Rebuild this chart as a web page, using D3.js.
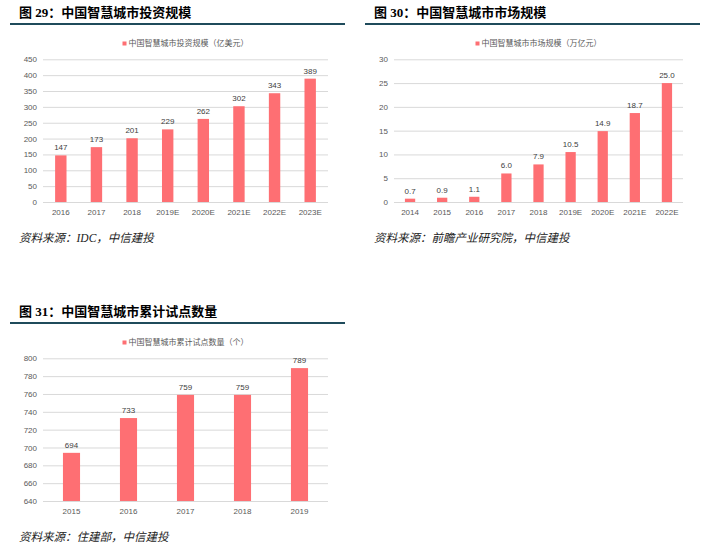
<!DOCTYPE html>
<html>
<head>
<meta charset="utf-8">
<script src="https://cdn.jsdelivr.net/npm/d3@7"></script>
<style>
  body { margin: 0; background: #fff; }
  svg { display: block; }
  .title { font-family: "Liberation Serif", "Noto Sans CJK SC", sans-serif; font-weight: bold; font-size: 13px; fill: #000; }
  .source { font-family: "Liberation Serif", "Noto Sans CJK SC", serif; font-style: italic; font-size: 11.5px; fill: #222; }
  .tick text, .lbl, .legend { font-family: "Liberation Sans", "Noto Sans CJK SC", sans-serif; font-size: 8px; }
</style>
</head>
<body>
<svg id="chart"></svg>
<script>
const width = 706, height = 547;

// 图29 投资规模 (亿美元)
const cats29 = ["2016", "2017", "2018", "2019E", "2020E", "2021E", "2022E", "2023E"];
const vals29 = [147, 173, 201, 229, 262, 302, 343, 389];
const ticks29 = [0, 50, 100, 150, 200, 250, 300, 350, 400, 450];

// 图30 市场规模 (万亿元)
const cats30 = ["2014", "2015", "2016", "2017", "2018", "2019E", "2020E", "2021E", "2022E"];
const vals30 = [0.7, 0.9, 1.1, 6.0, 7.9, 10.5, 14.9, 18.7, 25.0];
const ticks30 = [0, 5, 10, 15, 20, 25, 30];

// 图31 累计试点数量 (个)
const cats31 = ["2015", "2016", "2017", "2018", "2019"];
const vals31 = [694, 733, 759, 759, 789];
const ticks31 = [640, 660, 680, 700, 720, 740, 760, 780, 800];

const barColor = "#fe6f73";

const svg = d3.select("#chart")
  .attr("width", width)
  .attr("height", height);

function panel(opt) {
  const g = svg.append("g").attr("transform", `translate(${opt.x},${opt.y})`);

  g.append("text").attr("class", "title")
    .attr("x", 19).attr("y", 17)
    .text(opt.title);

  g.append("line")
    .attr("x1", 10).attr("x2", 345)
    .attr("y1", 24).attr("y2", 24)
    .attr("stroke", "#1f4b5b").attr("stroke-width", 2);

  const left = opt.left, right = 328, top = 59.3, bottom = 202;

  const x = d3.scaleBand()
    .domain(opt.cats)
    .range([left, right])
    .paddingInner(opt.pad)
    .paddingOuter(opt.pad / 2);

  const y = d3.scaleLinear()
    .domain(d3.extent(opt.ticks))
    .range([bottom, top]);

  // legend
  const lg = g.append("g").attr("transform", `translate(${(left + right) / 2},43.5)`);
  const lt = lg.append("text").attr("class", "legend")
    .attr("fill", "#595959")
    .attr("dy", "0.35em")
    .attr("text-anchor", "middle")
    .attr("x", 3)
    .text(opt.legend);
  const lw = lt.node().getComputedTextLength();
  lg.append("rect")
    .attr("x", 3 - lw / 2 - 6).attr("y", -2)
    .attr("width", 4).attr("height", 4)
    .attr("fill", barColor);

  // y axis + grid
  const ya = g.append("g")
    .attr("transform", `translate(${left},0)`)
    .call(d3.axisLeft(y).tickValues(opt.ticks).tickSize(-(right - left)).tickPadding(6));
  ya.select(".domain").remove();
  ya.selectAll(".tick line").attr("stroke", "#d9d9d9");
  ya.selectAll(".tick text").attr("fill", "#595959");

  // x axis
  const xa = g.append("g")
    .attr("transform", `translate(0,${bottom})`)
    .call(d3.axisBottom(x).tickSize(0).tickPadding(7));
  xa.select(".domain").remove();
  xa.selectAll(".tick text").attr("fill", "#595959");

  const data = opt.cats.map((c, i) => ({ c, v: opt.vals[i] }));

  g.append("g").selectAll("rect")
    .data(data)
    .enter()
    .append("rect")
    .attr("x", d => x(d.c))
    .attr("width", x.bandwidth())
    .attr("y", d => y(d.v))
    .attr("height", d => bottom - y(d.v))
    .attr("fill", barColor);

  g.append("g").selectAll("text")
    .data(data)
    .enter()
    .append("text")
    .attr("class", "lbl")
    .attr("fill", "#404040")
    .attr("text-anchor", "middle")
    .attr("x", d => x(d.c) + x.bandwidth() / 2)
    .attr("y", d => y(d.v) - 5)
    .text(d => opt.fmt(d.v));

  g.append("text").attr("class", "source")
    .attr("x", 19).attr("y", 242)
    .text(opt.source);
}

panel({
  x: 0, y: 0, left: 43, pad: 0.68,
  title: "图 29：中国智慧城市投资规模",
  legend: "中国智慧城市投资规模（亿美元）",
  source: "资料来源：IDC，中信建投",
  cats: cats29, vals: vals29, ticks: ticks29, fmt: d3.format("d")
});

panel({
  x: 355, y: 0, left: 39, pad: 0.68,
  title: "图 30：中国智慧城市市场规模",
  legend: "中国智慧城市市场规模（万亿元）",
  source: "资料来源：前瞻产业研究院，中信建投",
  cats: cats30, vals: vals30, ticks: ticks30, fmt: d3.format(".1f")
});

panel({
  x: 0, y: 299, left: 43, pad: 0.7,
  title: "图 31：中国智慧城市累计试点数量",
  legend: "中国智慧城市累计试点数量（个）",
  source: "资料来源：住建部，中信建投",
  cats: cats31, vals: vals31, ticks: ticks31, fmt: d3.format("d")
});
</script>
</body>
</html>
